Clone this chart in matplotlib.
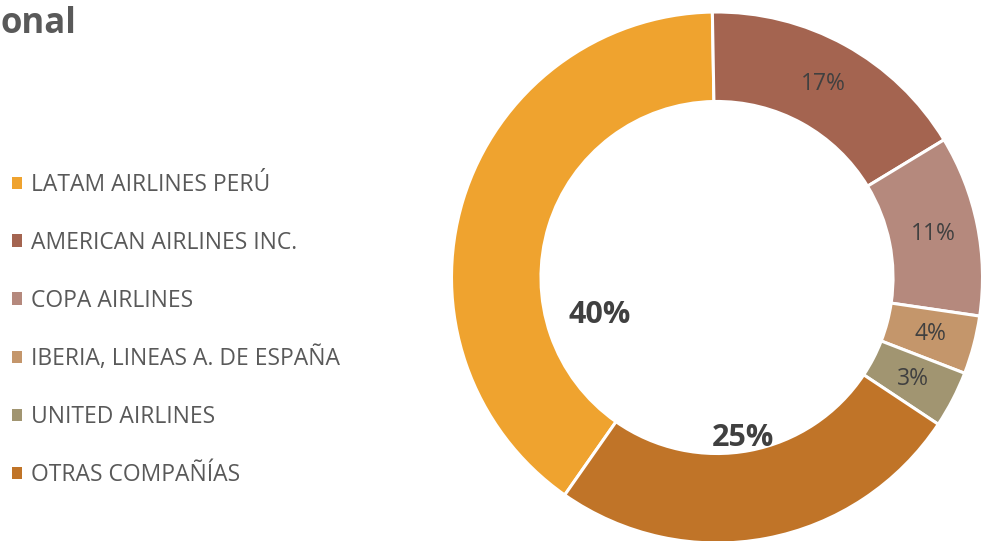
import matplotlib.pyplot as plt
from matplotlib.patches import Patch

plt.rcParams['font.family'] = ['Open Sans', 'DejaVu Sans']

# data (shares in %), legend order
airlines = ['LATAM AIRLINES PERÚ', 'AMERICAN AIRLINES INC.', 'COPA AIRLINES',
            'IBERIA, LINEAS A. DE ESPAÑA', 'UNITED AIRLINES', 'OTRAS COMPAÑÍAS']
shares = [40.0, 16.6, 11.0, 3.55, 3.45, 25.4]
colors = ['#EFA32F', '#A46450', '#B5897D', '#C4966B', '#A19571', '#C07428']

W, H = 982, 541
fig = plt.figure(figsize=(W / 100, H / 100), dpi=100)
ax = fig.add_axes([0, 0, 1, 1])

# work in pixel units, y going up
cx, cy = 717, H - 277.5
R = 265.5

wedges, texts, pcts = ax.pie(
    shares, colors=colors, radius=R, center=(cx, cy),
    startangle=235, counterclock=False,
    autopct='%.0f%%', pctdistance=0.832,
    wedgeprops=dict(width=R * 0.337, edgecolor='white', linewidth=2.2),
    textprops=dict(color='#404040', fontsize=16.5))
ax.set_xlim(0, W)
ax.set_ylim(0, H)
ax.axis('off')

# the two big labels sit inside the hole, in bold
for t, (px, py) in [(pcts[0], (600, 315)), (pcts[5], (743, 438))]:
    t.set_position((px, H - py))
    t.set_fontweight('bold')
    t.set_fontsize(22)

# title is cut off at the left edge of the picture
fig.text(0, 1 - 33 / H, 'onal', fontsize=25, fontweight='bold',
         color='#595959', ha='left', va='baseline')

handles = [Patch(facecolor=c, edgecolor='none') for c in colors]
fig.legend(handles, airlines, loc='center left',
           bbox_to_anchor=(12 / W, 1 - 330 / H),
           frameon=False, fontsize=16.5, labelcolor='#595959',
           handlelength=0.45, handleheight=0.45, handletextpad=0.4,
           labelspacing=1.48, borderpad=0, borderaxespad=0)

fig.savefig('out.png', dpi=100)
